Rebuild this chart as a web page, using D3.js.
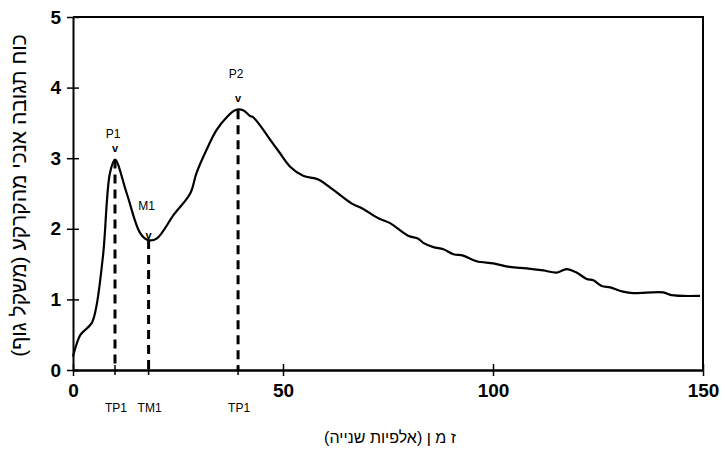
<!DOCTYPE html>
<html lang="he">
<head>
  <meta charset="UTF-8">
  <script src="https://d3js.org/d3.v7.min.js"></script>
  <style>
    body { margin: 0; background: #fff; }
    svg { display: block; }
    .tick-num { font-family: "Liberation Sans", Arial, sans-serif; font-weight: bold; font-size: 19px; }
    .small { font-family: "Liberation Sans", Arial, sans-serif; font-size: 12px; }
    .heb { font-family: "Liberation Sans", "DejaVu Sans", sans-serif; font-size: 16px; }
  </style>
</head>
<body>
  <div id="chart"></div>
  <script>
    // time (thousandths of a second) and vertical ground reaction force (body weights)
    const timeMs = [0, 0.6, 1.8, 4.4, 5.5, 7.2, 8.8, 10, 12.8, 16, 17.9, 19.9, 24, 27.9, 29.4, 31.8, 34.2, 36.6,
      38.6, 40.5, 42.1, 42.9, 47.7, 49.3, 51.7, 54.8, 58.4, 62, 66.3, 69.1, 72.7, 75.5, 79.8, 82.2, 83.4,
      85.8, 88.2, 90.6, 92.9, 96.1, 100.1, 104, 108, 112, 115.2, 117.5, 119.9, 122.3, 123.9, 125.9,
      127.9, 131, 133.4, 140.5, 142.5, 149.3];
    const force = [0.19, 0.32, 0.5, 0.66, 0.88, 1.65, 2.79, 2.98, 2.5, 1.94, 1.84, 1.86, 2.2, 2.5, 2.79, 3.12, 3.4, 3.58,
      3.68, 3.68, 3.6, 3.58, 3.2, 3.07, 2.88, 2.75, 2.7, 2.55, 2.36, 2.28, 2.15, 2.08, 1.9, 1.86, 1.8,
      1.74, 1.71, 1.64, 1.62, 1.54, 1.51, 1.46, 1.44, 1.41, 1.38, 1.43, 1.38, 1.29, 1.27, 1.19,
      1.17, 1.11, 1.09, 1.1, 1.06, 1.05];

    const markerLabels = ["P1", "M1", "P2"];
    const markerTimes = [10, 18, 39.3];
    const markerForces = [2.98, 1.84, 3.68];
    const markerTickLabels = ["TP1", "TM1", "TP1"];

    const xTicks = [0, 50, 100, 150];
    const yTicks = [0, 1, 2, 3, 4, 5];

    const yTitle = "כוח תגובה אנכי מהקרקע (משקל גוף)";
    const xTitle = "ז מ ן (אלפיות שנייה)";

    const width = 725;
    const height = 449;
    const margin = { top: 17, right: 22, bottom: 79, left: 73 };

    const svg = d3.select("#chart")
      .append("svg")
      .attr("width", width)
      .attr("height", height);

    const x = d3.scaleLinear().domain([0, 150]).range([margin.left, width - margin.right]);
    const y = d3.scaleLinear().domain([0, 5]).range([height - margin.bottom, margin.top]);

    // frame: top and right edges
    svg.append("path")
      .attr("d", `M${x(0)},${y(5)}H${x(150)}V${y(0)}`)
      .attr("fill", "none")
      .attr("stroke", "#000")
      .attr("stroke-width", 2);

    // x axis
    const xAxis = svg.append("g")
      .attr("transform", `translate(0,${y(0)})`)
      .call(d3.axisBottom(x).tickValues(xTicks).tickFormat(d3.format("d")).tickSize(0).tickPadding(14));
    xAxis.select(".domain").attr("stroke-width", 2.5);
    xAxis.selectAll("text").attr("class", "tick-num").attr("fill", "#000");
    xAxis.selectAll(".tick").append("line")
      .attr("y1", -6).attr("y2", 6)
      .attr("stroke", "#000").attr("stroke-width", 1.5);

    // y axis
    const yAxis = svg.append("g")
      .attr("transform", `translate(${x(0)},0)`)
      .call(d3.axisLeft(y).tickValues(yTicks).tickFormat(d3.format("d")).tickSize(0).tickPadding(12));
    yAxis.select(".domain").attr("stroke-width", 2);
    yAxis.selectAll("text").attr("class", "tick-num").attr("fill", "#000");
    yAxis.selectAll(".tick").append("line")
      .attr("x1", -6).attr("x2", 6)
      .attr("stroke", "#000").attr("stroke-width", 1.5);

    // extra ticks at marker times
    const markers = markerLabels.map((l, i) => ({
      label: l, t: markerTimes[i], f: markerForces[i], tick: markerTickLabels[i]
    }));

    svg.append("g").selectAll("line")
      .data(markers)
      .join("line")
      .attr("x1", d => x(d.t)).attr("x2", d => x(d.t))
      .attr("y1", y(0) - 5).attr("y2", y(0) + 5)
      .attr("stroke", "#000").attr("stroke-width", 1.5);

    // dashed drop lines
    svg.append("g").selectAll("line")
      .data(markers)
      .join("line")
      .attr("x1", d => x(d.t)).attr("x2", d => x(d.t))
      .attr("y1", d => y(d.f)).attr("y2", y(0))
      .attr("stroke", "#000")
      .attr("stroke-width", 3)
      .attr("stroke-dasharray", "9,6");

    // the force curve
    const line = d3.line()
      .x(d => x(d[0]))
      .y(d => y(d[1]))
      .curve(d3.curveCatmullRom.alpha(0.5));

    svg.append("path")
      .datum(timeMs.map((t, i) => [t, force[i]]))
      .attr("fill", "none")
      .attr("stroke", "#000")
      .attr("stroke-width", 2.2)
      .attr("stroke-linejoin", "round")
      .attr("d", line);

    // peak labels and little v markers
    const labelGap = { P1: 22, M1: 30, P2: 32 };
    svg.append("g").selectAll("text")
      .data(markers)
      .join("text")
      .attr("class", "small")
      .attr("x", d => x(d.t) - 2)
      .attr("y", d => y(d.f) - labelGap[d.label])
      .attr("text-anchor", "middle")
      .text(d => d.label);

    svg.append("g").selectAll("text")
      .data(markers)
      .join("text")
      .attr("class", "small")
      .style("font-weight", "bold")
      .style("font-size", "11px")
      .attr("x", d => x(d.t))
      .attr("y", d => y(d.f) - (d.label === "M1" ? 1 : 8))
      .attr("text-anchor", "middle")
      .text("v");

    // tick labels under the marker ticks
    svg.append("g").selectAll("text")
      .data(markers)
      .join("text")
      .attr("class", "small")
      .attr("x", d => x(d.t) + 1)
      .attr("y", y(0) + 42)
      .attr("text-anchor", "middle")
      .text(d => d.tick);

    // axis titles
    svg.append("text")
      .attr("class", "heb")
      .style("font-size", "21px")
      .attr("direction", "rtl")
      .attr("transform", `translate(26,${(margin.top + y(0)) / 2 + 2}) rotate(-90)`)
      .attr("text-anchor", "middle")
      .text(yTitle);

    svg.append("text")
      .attr("class", "heb")
      .attr("direction", "rtl")
      .attr("x", 390)
      .attr("y", 443)
      .attr("text-anchor", "middle")
      .text(xTitle);
  </script>
</body>
</html>
